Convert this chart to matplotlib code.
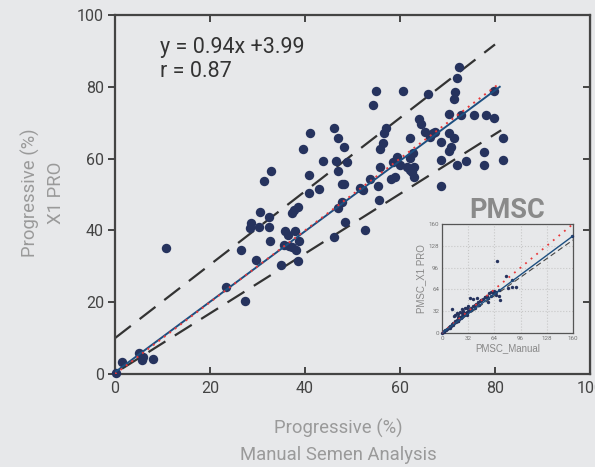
import numpy as np
import matplotlib.pyplot as plt

# main scatter: manual vs X1 PRO progressive motility (%)
manual = [0.2, 1.4, 5.1, 5.6, 5.8, 8.1, 10.7, 23.3, 27.4, 26.5, 29.6, 28.6, 28.4, 30.4, 30.5,
          32.4, 32.4, 32.6, 31.3, 32.9, 35.0, 35.7, 36.4, 37.8, 35.6, 36.7, 37.3, 38.2, 38.7,
          38.5, 37.2, 37.7, 38.6, 40.8, 40.9, 39.5, 41.1, 46.2, 47.0, 48.2, 43.8, 46.5, 48.8,
          47.0, 43.0, 47.7, 48.3, 51.6, 52.3, 53.7, 55.3, 55.8, 55.6, 57.1, 56.7, 56.4, 55.8,
          62.0, 59.3, 58.6, 60.0, 58.9, 58.2, 61.4, 62.1, 62.9, 62.5, 62.9, 47.7, 46.9, 48.4,
          52.6, 46.0, 72.5, 72.1, 71.6, 71.4, 65.8, 60.7, 79.8, 70.4, 72.8, 75.6, 78.0, 79.8,
          63.9, 64.4, 65.3, 66.3, 67.0, 67.4, 70.4, 71.3, 68.6, 70.7, 70.3, 81.6, 77.7, 81.6,
          68.6, 73.8, 72.1, 77.7, 68.6, 62.8, 62.1, 54.9, 54.4]
x1pro = [0.2, 3.3, 5.8, 3.9, 4.8, 4.3, 35.2, 24.2, 20.3, 34.5, 31.8, 42.1, 40.6, 40.9, 45.0,
         43.8, 40.9, 37.0, 53.8, 56.5, 30.4, 39.8, 38.7, 39.8, 35.9, 35.7, 35.5, 34.5, 37.0,
         31.5, 44.8, 45.7, 46.6, 55.4, 50.3, 62.8, 67.2, 68.4, 65.8, 63.3, 59.3, 59.3, 59.0,
         56.5, 51.5, 52.8, 52.8, 51.9, 51.3, 54.2, 52.5, 57.7, 48.5, 68.4, 67.0, 64.4, 62.7,
         65.6, 60.5, 59.1, 58.2, 55.0, 54.2, 57.7, 56.8, 57.7, 56.4, 54.8, 48.0, 46.2, 42.3,
         40.1, 38.2, 85.4, 82.5, 78.6, 76.5, 77.9, 78.9, 78.9, 72.4, 72.1, 72.1, 72.1, 71.2,
         71.0, 69.6, 67.3, 65.9, 67.0, 67.5, 67.2, 65.6, 64.5, 63.1, 62.2, 65.6, 61.9, 59.6,
         59.6, 59.3, 58.2, 58.2, 52.5, 61.5, 60.1, 78.8, 74.9]

fit_x = [0, 81]
fit_y = [0.5, 80]
ident_x = [0, 81]
ident_y = [0, 81]
upper_x = [0, 80]
upper_y = [10, 91.8]
lower_x = [1.5, 81.3]
lower_y = [1.5, 67.9]

# inset: PMSC
pmsc_manual = [0, 2, 3, 4, 5, 6, 7, 8, 9, 10, 11, 12, 13, 14, 15, 16, 17, 18, 19, 20, 21, 22,
               23, 24, 25, 26, 27, 28, 29, 30, 31, 32, 33, 34, 36, 38, 40, 42, 44, 46, 48, 50,
               52, 55, 58, 60, 12, 15, 16, 18, 20, 22, 19, 24, 26, 28, 30, 32, 25, 34, 38, 43,
               48, 52, 56, 62, 64, 66, 70, 71, 67.5, 78, 85, 90, 86, 80, 159, 10, 20, 30, 40,
               36, 45, 56, 60, 66, 70]
pmsc_x1 = [0, 2, 3, 5, 4, 6, 8, 7, 9, 11, 10, 13, 12, 15, 14, 17, 16, 19, 18, 21, 20, 23, 22,
           25, 24, 27, 26, 29, 28, 31, 30, 33, 32, 35, 37, 39, 41, 43, 45, 47, 49, 50, 53, 55,
           59, 60, 35, 25, 27, 30, 28, 31, 24, 29, 33, 36, 37, 40, 35, 51, 50, 51, 48, 53, 46,
           59, 61, 56, 54, 49, 106, 83, 78, 68, 67, 66, 142, 8, 18, 27, 36, 34, 41, 51, 55,
           60, 63]

bg = '#e7e8ea'
fig = plt.figure(figsize=(5.95, 4.67), dpi=100, facecolor=bg)
plt.rcParams['font.family'] = ['Roboto', 'DejaVu Sans']

ax = fig.add_axes([0.1933, 0.1991, 0.7983, 0.7688], facecolor=bg)
ax.plot(upper_x, upper_y, color='#333333', lw=1.6, dashes=(9, 5))
ax.plot(lower_x, lower_y, color='#333333', lw=1.6, dashes=(9, 5))
ax.scatter(manual, x1pro, s=46, color='#26335e', zorder=3, clip_on=False, linewidths=0)
ax.plot(fit_x, fit_y, color='#1d4f80', lw=1.4, zorder=4)
ax.plot(ident_x, ident_y, color='#e8383a', lw=1.4, ls=(0, (1, 2.5)), zorder=4)

ax.set_xlim(0, 100)
ax.set_ylim(0, 100)
ax.set_xticks([0, 20, 40, 60, 80, 100])
ax.set_yticks([0, 20, 40, 60, 80, 100])
for sp in ax.spines.values():
    sp.set_color('#444444')
    sp.set_linewidth(1.6)
ax.tick_params(axis='y', which='both', direction='out', left=True, right=False,
               length=5, width=1.4, color='#444444', labelcolor='#444444', labelsize=11.5, pad=3)
ax.tick_params(axis='x', direction='in', bottom=True, top=True, length=5, width=1.4,
               color='#444444', labelcolor='#444444', labelsize=11.5, pad=5)
ax2 = ax.secondary_yaxis('right')
ax2.set_yticks([20, 40, 60, 80])
ax2.tick_params(direction='in', length=5, width=1.4, color='#444444', labelright=False)

ax.text(9.5, 93.8, 'y = 0.94x +3.99\nr = 0.87', fontsize=15.5, color='#333333',
        va='top', ha='left', linespacing=1.15)

fig.text(338 / 595, 1 - 428 / 467, 'Progressive (%)', ha='center', va='center',
         fontsize=13.3, color='#9a9a9a')
fig.text(338 / 595, 1 - 455 / 467, 'Manual Semen Analysis', ha='center', va='center',
         fontsize=13.3, color='#9a9a9a')
fig.text(30 / 595, 1 - 193 / 467, 'Progressive (%)', ha='center', va='center',
         fontsize=13.3, color='#9a9a9a', rotation=90)
fig.text(56 / 595, 1 - 193 / 467, 'X1 PRO', ha='center', va='center',
         fontsize=13.3, color='#9a9a9a', rotation=90)

# inset
ins = fig.add_axes([442 / 595, 1 - 333 / 467, 131 / 595, 109 / 467], facecolor=bg)
ins.plot([0, 160], [0, 160], color='#e8383a', lw=1.3, ls=(0, (1, 3)), zorder=4, clip_on=False)
ins.plot([0, 160], [0, 142.5], color='#1d4f80', lw=1.0, zorder=4)
ins.plot([0, 160], [0, 136.5], color='#444444', lw=0.8, dashes=(5, 3), zorder=3)
ins.scatter(pmsc_manual, pmsc_x1, s=6, color='#26335e', zorder=3, linewidths=0, clip_on=False)
ins.set_xlim(0, 160)
ins.set_ylim(0, 160)
ins.set_xticks([0, 32, 64, 96, 128, 160])
ins.set_yticks([0, 32, 64, 96, 128, 160])
ins.grid(True, color='#c8c8c8', ls=':', lw=0.8)
for sp in ins.spines.values():
    sp.set_color('#555555')
    sp.set_linewidth(0.9)
ins.tick_params(length=0, labelsize=4.5, labelcolor='#777777', pad=2)
ins.set_xlabel('PMSC_Manual', fontsize=7, color='#888888', labelpad=2,
               family=['Liberation Sans', 'DejaVu Sans'])
ins.set_ylabel('PMSC_X1 PRO', fontsize=7, color='#888888', labelpad=2,
               family=['Liberation Sans', 'DejaVu Sans'])
ins.set_title('PMSC', fontsize=19.5, fontweight='bold', color='#8a8a8a', pad=2)

fig.savefig('out.png', dpi=100, facecolor=bg)
